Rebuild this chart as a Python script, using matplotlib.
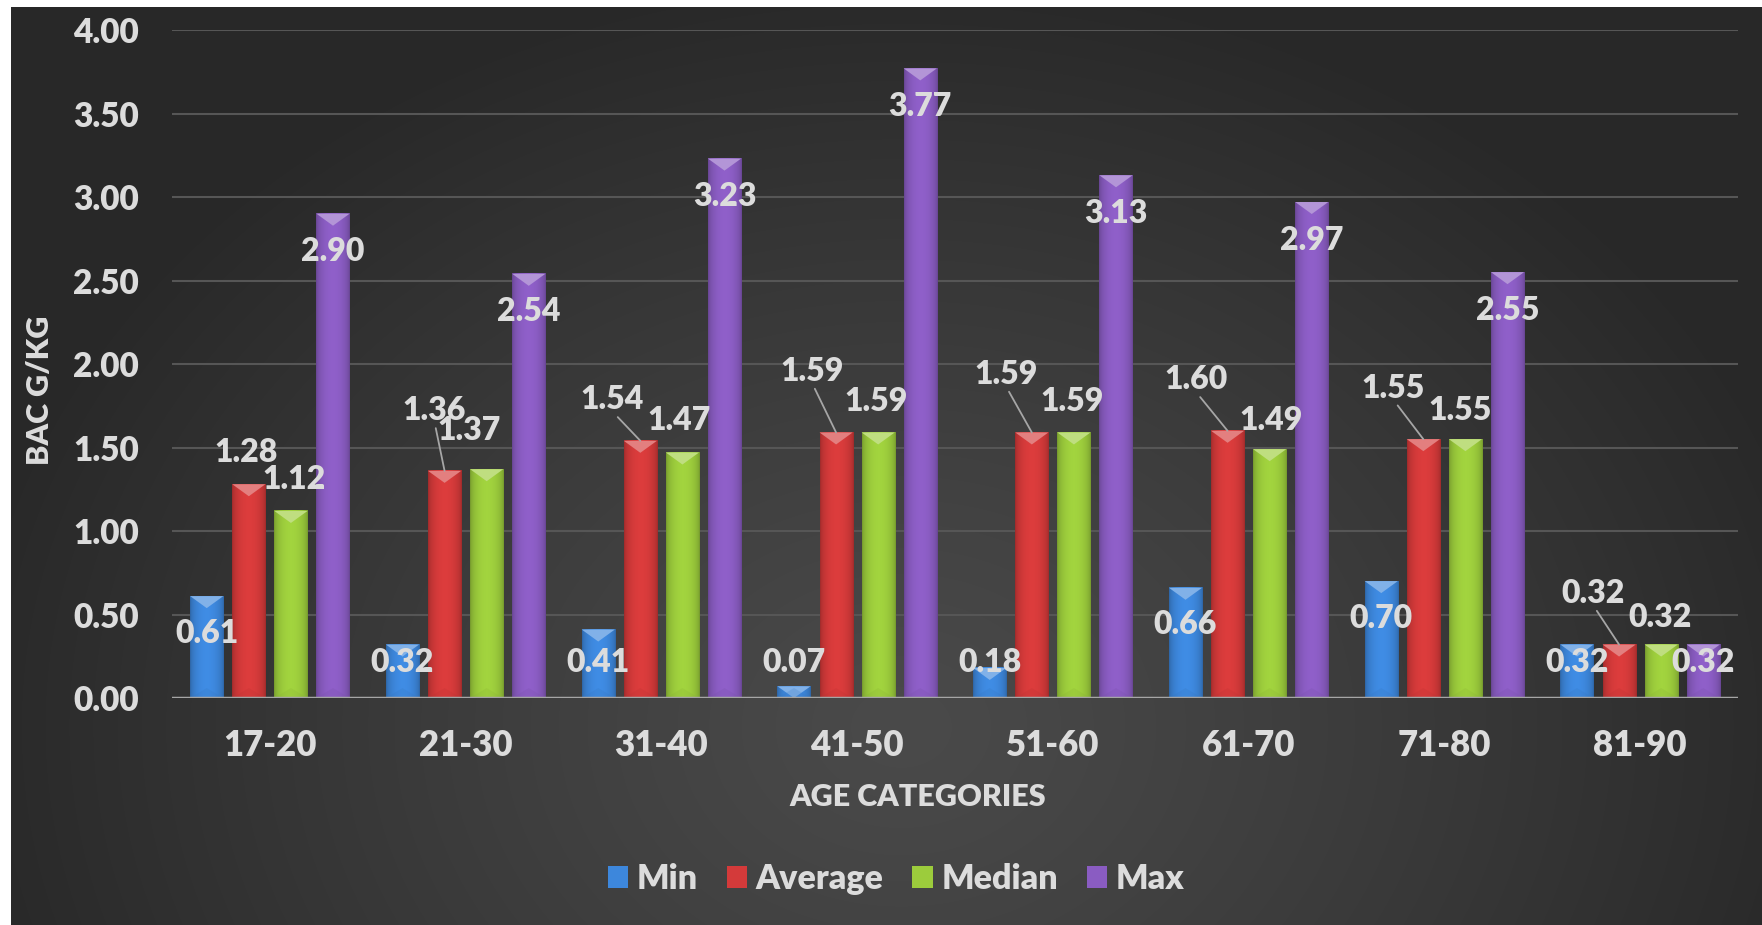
import numpy as np
import matplotlib.pyplot as plt
from matplotlib.patches import Polygon, Patch
from matplotlib.colors import to_rgb

# BAC statistics per age category
age_groups = ['17-20', '21-30', '31-40', '41-50', '51-60', '61-70', '71-80', '81-90']
series_names = ['Min', 'Average', 'Median', 'Max']
bac_min = [0.61, 0.32, 0.41, 0.07, 0.18, 0.66, 0.70, 0.32]
bac_avg = [1.28, 1.36, 1.54, 1.59, 1.59, 1.60, 1.55, 0.32]
bac_median = [1.12, 1.37, 1.47, 1.59, 1.59, 1.49, 1.55, 0.32]
bac_max = [2.90, 2.54, 3.23, 3.77, 3.13, 2.97, 2.55, 0.32]
y_ticks = [0.0, 0.5, 1.0, 1.5, 2.0, 2.5, 3.0, 3.5, 4.0]

colors = ['#3d87dc', '#d43a3a', '#9ccc3c', '#8a5cc2']
txt = '#dcdcdc'

# label offsets (pixels) for the average / median labels
avg_off = [(-3, 32), (-10, 60), (-28, 41), (-24, 61), (-26, 58), (-32, 51), (-30, 51), (-26, 51)]
avg_leader = [False, True, True, True, True, True, True, True]
med_off = [(3, 31), (-18, 39), (-3, 32), (-2, 31), (-2, 31), (1, 29), (-5, 29), (-1, 27)]

plt.rcParams['font.family'] = ['Lato', 'DejaVu Sans']
WEIGHT = 'heavy'

W, H = 1762, 925
fig = plt.figure(figsize=(W / 100, H / 100), dpi=100, facecolor='white')

# dark radial background
bg = fig.add_axes([11 / W, 0, 1 - 11 / W, 1 - 7 / H], zorder=0)
yy, xx = np.mgrid[0:918, 0:1751]
d = np.sqrt(((xx - 890) / 950) ** 2 + ((yy - 720) / 760) ** 2)
d = np.clip(d, 0, 1) ** 1.2
c_in, c_out = np.array([0x4a, 0x4a, 0x4a]) / 255, np.array([0x28, 0x28, 0x28]) / 255
bg.imshow(c_in + (c_out - c_in) * d[..., None], aspect='auto', interpolation='bilinear')
bg.axis('off')

ax = fig.add_axes([172 / W, (H - 698) / H, 1566 / W, 668 / H], zorder=1)
ax.patch.set_alpha(0)

n = len(age_groups)
x = np.arange(n)
bar_w = 0.169
pitch = 0.215
offsets = [-1.5 * pitch, -0.5 * pitch, 0.5 * pitch, 1.5 * pitch]
px_per_unit = 668 / 4


def shaded_bar(xc, h, color):
    base = np.array(to_rgb(color))
    x0, x1 = xc - bar_w / 2, xc + bar_w / 2
    t = np.linspace(0, 1, 64)
    shade = 0.74 + 0.30 * np.sin(np.pi * t) ** 0.5
    img = np.clip(base[None, :] * shade[:, None], 0, 1)[None, :, :]
    ax.imshow(img, extent=[x0, x1, 0, h], aspect='auto', zorder=3,
              interpolation='bilinear')
    bev = min(12 / px_per_unit, h)
    light = base + (1 - base) * 0.35
    ax.add_patch(Polygon([(x0, h), (x1, h), (xc, h - bev)], closed=True,
                         facecolor=light, edgecolor='none', zorder=4))
    ax.add_patch(Polygon([(x0, 0), (x1, 0), (xc, min(10 / px_per_unit, h))], closed=True,
                         facecolor=base * 0.85, edgecolor='none', alpha=0.2, zorder=4))


all_series = [bac_min, bac_avg, bac_median, bac_max]
for s, vals in enumerate(all_series):
    for i, v in enumerate(vals):
        shaded_bar(x[i] + offsets[s], v, colors[s])

lab = dict(color=txt, fontsize=23, fontweight=WEIGHT, ha='center', va='center', zorder=6)
floor = 36 / px_per_unit

for i in range(n):
    # min and max: inside end, kept above the axis
    for s, vals, drop in [(0, bac_min, 37), (3, bac_max, 38)]:
        ym = max(vals[i] - drop / px_per_unit, floor)
        ax.text(x[i] + offsets[s], ym, f'{vals[i]:.2f}', **lab)
    # average with leader line
    arrow = None
    if avg_leader[i]:
        arrow = dict(arrowstyle='-', color='#a6a6a6', lw=1.3, relpos=(0.5, 0.1),
                     shrinkA=0, shrinkB=0)
    ax.annotate(f'{bac_avg[i]:.2f}', (x[i] + offsets[1], bac_avg[i]),
                xytext=avg_off[i], textcoords='offset pixels', arrowprops=arrow, **lab)
    ax.annotate(f'{bac_median[i]:.2f}', (x[i] + offsets[2], bac_median[i]),
                xytext=med_off[i], textcoords='offset pixels', **lab)

ax.set_xlim(-0.5, n - 0.5)
ax.set_ylim(0, 4)
ax.set_yticks(y_ticks)
ax.set_yticklabels([f'{t:.2f}' for t in y_ticks], fontweight=WEIGHT)
ax.set_xticks(x)
ax.set_xticklabels(age_groups, fontweight=WEIGHT)
ax.grid(axis='y', color='#565656', lw=1.5, zorder=0)
ax.set_axisbelow(True)
ax.axhline(0, color='#a6a6a6', lw=2.5, zorder=5)
for sp in ax.spines.values():
    sp.set_visible(False)
ax.tick_params(axis='y', length=0, pad=24, labelsize=24, labelcolor=txt)
ax.tick_params(axis='x', length=0, pad=22, labelsize=25, labelcolor=txt)

fig.text(918 / W, 1 - 797 / H, 'AGE CATEGORIES', color=txt, fontsize=22,
         fontweight=WEIGHT, ha='center', va='center')
fig.text(40 / W, 1 - 390 / H, 'BAC G/KG', color=txt, fontsize=22,
         fontweight=WEIGHT, ha='center', va='center', rotation=90)

handles = [Patch(facecolor=c, edgecolor='none') for c in colors]
fig.legend(handles, series_names, loc='center', bbox_to_anchor=(896 / W, 1 - 879 / H),
           ncol=4, frameon=False, labelcolor=txt, handlelength=0.6,
           handleheight=0.6, handletextpad=0.25, columnspacing=0.85,
           prop=dict(family=['Lato', 'DejaVu Sans'], size=24.5, weight=WEIGHT))

fig.savefig('out.png', dpi=100, facecolor='white')
